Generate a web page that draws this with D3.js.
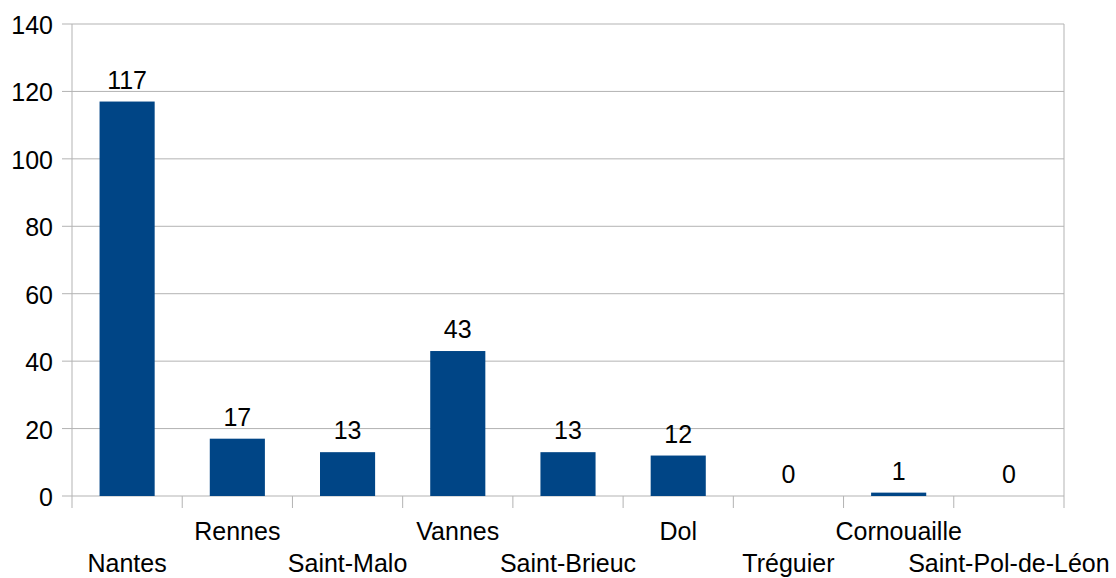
<!DOCTYPE html>
<html lang="fr">
<head>
<meta charset="utf-8">
<title>D3</title>
<script src="https://d3js.org/d3.v7.min.js"></script>
<style>
  body { margin: 0; background: #fff; }
  text { font-family: "Liberation Sans", Arial, sans-serif; fill: #000; }
</style>
</head>
<body>
<div id="viz"></div>
<script>
// data
const categories = ["Nantes", "Rennes", "Saint-Malo", "Vannes", "Saint-Brieuc", "Dol", "Tréguier", "Cornouaille", "Saint-Pol-de-Léon"];
const values = [117, 17, 13, 43, 13, 12, 0, 1, 0];
const yTicks = [0, 20, 40, 60, 80, 100, 120, 140];

const W = 1116, H = 578;
const margin = {top: 24, right: 52, bottom: 82, left: 72};
const width = W - margin.left - margin.right;
const height = H - margin.top - margin.bottom;
const fs = 25;

const svg = d3.select("#viz").append("svg")
    .attr("width", W).attr("height", H);
const g = svg.append("g")
    .attr("transform", `translate(${margin.left},${margin.top})`);

const x = d3.scaleBand().domain(categories).range([0, width]).paddingInner(0.5).paddingOuter(0.25);
const xb = d3.scaleBand().domain(categories).range([0, width]);
const y = d3.scaleLinear().domain([0, 140]).range([height, 0]);

// horizontal grid lines + left ticks
g.selectAll(".grid").data(yTicks).join("line")
    .attr("x1", -10).attr("x2", width)
    .attr("y1", d => y(d)).attr("y2", d => y(d))
    .attr("stroke", "#b3b3b3").attr("stroke-width", 1);

g.selectAll(".ylab").data(yTicks).join("text")
    .attr("x", -19).attr("y", d => y(d))
    .attr("dy", "0.4em")
    .attr("text-anchor", "end")
    .attr("font-size", fs)
    .text(d => d);

// vertical axis lines
g.append("line").attr("x1", 0).attr("x2", 0).attr("y1", 0).attr("y2", height + 12)
    .attr("stroke", "#b3b3b3");
g.append("line").attr("x1", width).attr("x2", width).attr("y1", 0).attr("y2", height + 12)
    .attr("stroke", "#b3b3b3");

// category separators below the axis
g.selectAll(".xtick").data(categories.slice(1)).join("line")
    .attr("x1", d => xb(d)).attr("x2", d => xb(d))
    .attr("y1", height).attr("y2", height + 12)
    .attr("stroke", "#b3b3b3");

// bars
g.selectAll(".bar").data(values).join("rect")
    .attr("x", (d, i) => x(categories[i]))
    .attr("width", x.bandwidth())
    .attr("y", d => y(d))
    .attr("height", d => height - y(d))
    .attr("fill", "#004586");

// value labels
g.selectAll(".val").data(values).join("text")
    .attr("x", (d, i) => x(categories[i]) + x.bandwidth() / 2)
    .attr("y", d => y(d) - 13)
    .attr("text-anchor", "middle")
    .attr("font-size", fs)
    .text(d => d);

// category labels, staggered on two rows
g.selectAll(".xlab").data(categories).join("text")
    .attr("x", d => xb(d) + xb.bandwidth() / 2)
    .attr("y", (d, i) => i % 2 === 0 ? height + 76 : height + 44)
    .attr("text-anchor", "middle")
    .attr("font-size", fs)
    .text(d => d);
</script>
</body>
</html>
